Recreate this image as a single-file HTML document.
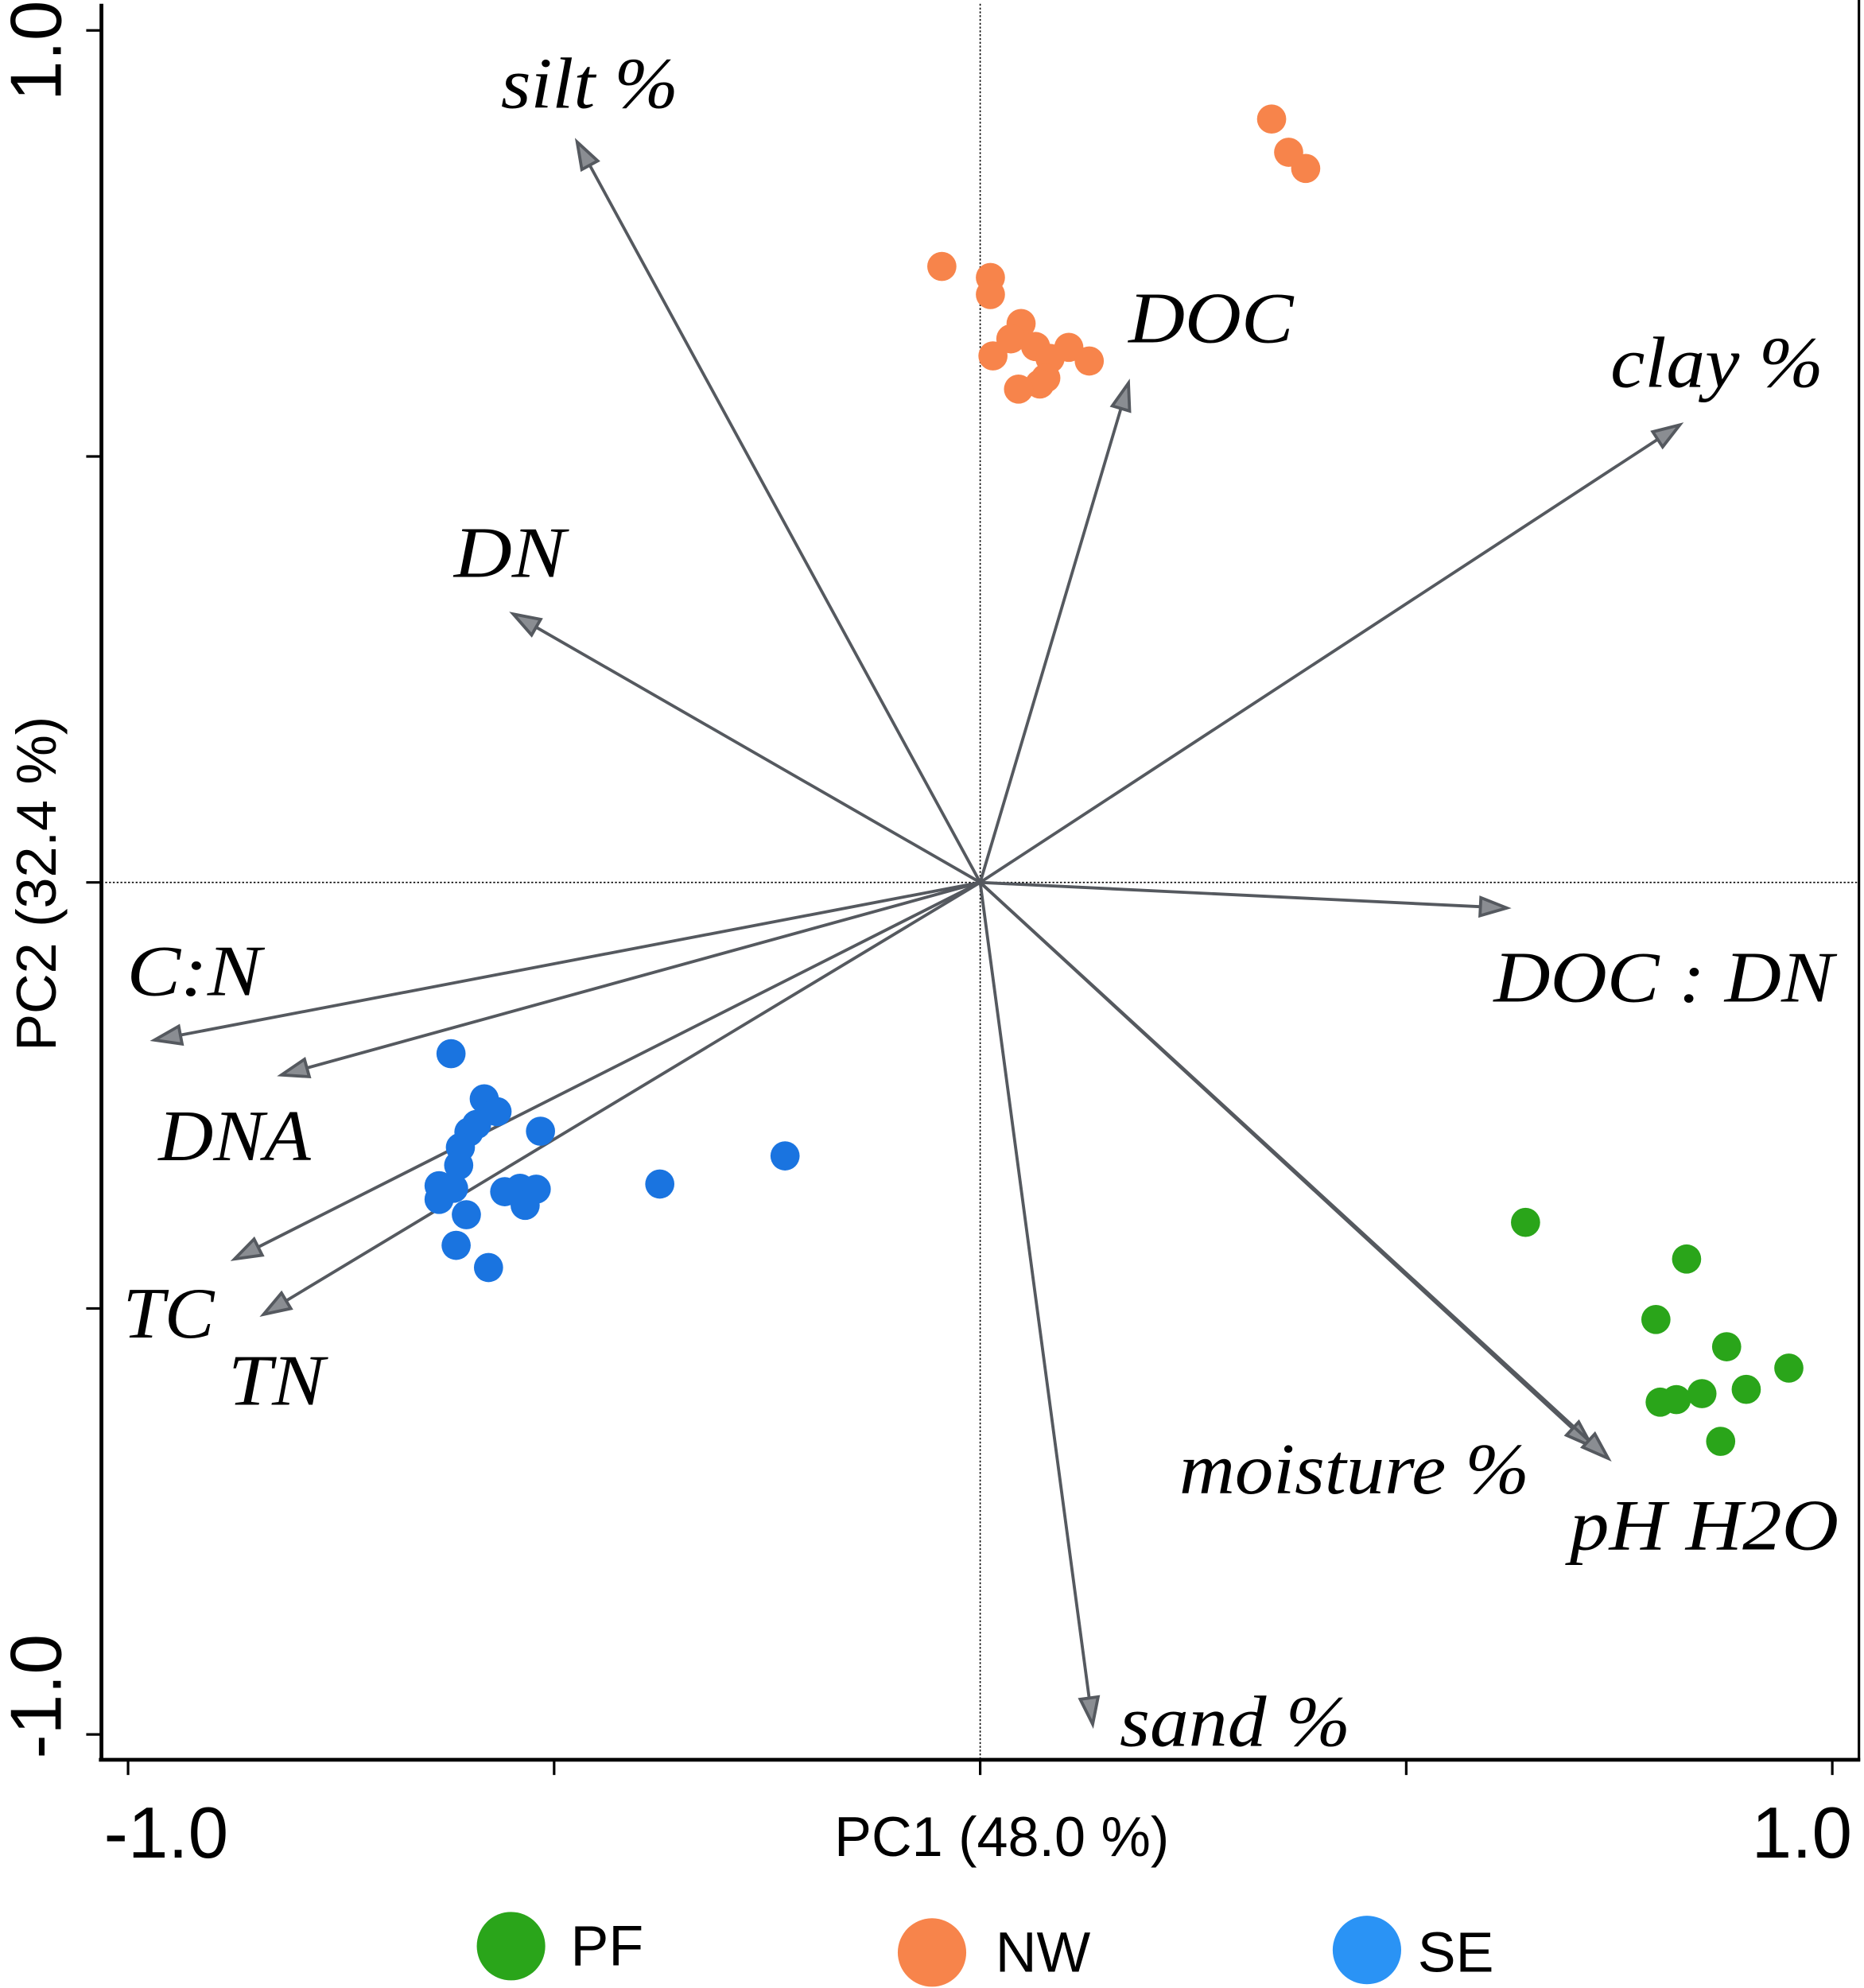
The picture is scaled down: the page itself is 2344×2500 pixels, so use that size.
<!DOCTYPE html>
<html><head><meta charset="utf-8"><style>
html,body{margin:0;padding:0;background:#fff;}
svg{display:block;}
</style></head><body>
<svg id="chart" width="2344" height="2500" viewBox="0 0 1470 1568" preserveAspectRatio="none" xmlns="http://www.w3.org/2000/svg">
<g id="axes"></g>
<g id="vectors"></g>
<g id="points"></g>
<g id="legend"></g>
</svg>
<script>
const xTicks = [-1, -0.5, 0, 0.5, 1];
const yTicks = [-1, -0.5, 0, 0.5, 1];
const xTickLabels = ["-1.0", "1.0"];
const yTickLabels = ["-1.0", "1.0"];
const vecNames = ["silt %", "DN", "DOC", "clay %", "DOC : DN", "C:N", "DNA", "TC", "TN", "moisture %", "pH H2O", "sand %"];
const vecX = [-0.473, -0.548, 0.174, 0.821, 0.618, -0.969, -0.820, -0.875, -0.841, 0.718, 0.737, 0.132];
const vecY = [0.869, 0.315, 0.586, 0.537, -0.030, -0.185, -0.226, -0.442, -0.507, -0.662, -0.676, -0.988];
const nwX = [0.342,0.362,0.382,-0.045,0.012,0.012,0.048,0.036,0.065,0.104,0.015,0.082,0.128,0.077,0.070,0.045];
const nwY = [0.896,0.857,0.838,0.723,0.710,0.690,0.656,0.638,0.629,0.628,0.618,0.615,0.612,0.592,0.585,0.579];
const seX = [-0.621,-0.582,-0.567,-0.591,-0.600,-0.516,-0.610,-0.612,-0.635,-0.618,-0.558,-0.540,-0.521,-0.635,-0.534,-0.603,-0.615,-0.577,-0.376,-0.229];
const seY = [-0.201,-0.254,-0.269,-0.284,-0.293,-0.292,-0.311,-0.332,-0.356,-0.359,-0.363,-0.359,-0.360,-0.372,-0.379,-0.390,-0.426,-0.452,-0.354,-0.321];
const pfX = [0.640,0.829,0.793,0.876,0.949,0.899,0.847,0.817,0.798,0.869];
const pfY = [-0.399,-0.442,-0.513,-0.545,-0.570,-0.595,-0.600,-0.607,-0.610,-0.656];

const NS = "http://www.w3.org/2000/svg";
const X0 = 773, Y0 = 696, S = 672;
function sx(v){ return X0 + v * S; }
function sy(v){ return Y0 - v * S; }
function mk(tag, attrs, parent, txt){
  const e = document.createElementNS(NS, tag);
  for (const k in attrs) e.setAttribute(k, attrs[k]);
  if (txt !== undefined) e.textContent = txt;
  parent.appendChild(e);
  return e;
}
const axes = document.getElementById('axes');
let e;
e = mk('line',{x1:80,y1:3,x2:80,y2:1389,stroke:'#000','stroke-width':3},axes);


e = mk('line',{x1:78,y1:1388,x2:1467,y2:1388,stroke:'#000','stroke-width':3},axes);


e = mk('line',{x1:1466,y1:0,x2:1466,y2:1389,stroke:'#000','stroke-width':2},axes);


e = mk('line',{x1:80,y1:Y0,x2:1466,y2:Y0,stroke:'#000','stroke-width':1,'stroke-dasharray':'1.5,1.5'},axes);


e = mk('line',{x1:X0,y1:3,x2:X0,y2:1388,stroke:'#000','stroke-width':1,'stroke-dasharray':'1.5,1.5'},axes);


xTicks.forEach(t=>{
  const l = mk('line',{x1:sx(t),y1:1388,x2:sx(t),y2:1400,stroke:'#000','stroke-width':2},axes);
  
  
});
yTicks.forEach(t=>{
  const l = mk('line',{x1:68,y1:sy(t),x2:80,y2:sy(t),stroke:'#000','stroke-width':2},axes);
  
  
});
const font = '"Liberation Sans", Arial, sans-serif';
e = mk('text',{x:sx(-1)+30,y:1465,'font-family':font,'font-size':57,'text-anchor':'middle'},axes,xTickLabels[0]);


e = mk('text',{x:sx(1)-24,y:1465,'font-family':font,'font-size':57,'text-anchor':'middle'},axes,xTickLabels[1]);


e = mk('text',{x:0,y:0,'font-family':font,'font-size':57,'text-anchor':'middle',transform:`translate(48,${sy(-1)-30}) rotate(-90)`},axes,yTickLabels[0]);


e = mk('text',{x:0,y:0,'font-family':font,'font-size':57,'text-anchor':'middle',transform:`translate(48,${sy(1)+16}) rotate(-90)`},axes,yTickLabels[1]);


e = mk('text',{x:790,y:1464,'font-family':font,'font-size':44,'text-anchor':'middle'},axes,'PC1 (48.0 %)');


e = mk('text',{x:0,y:0,'font-family':font,'font-size':44,'text-anchor':'middle',transform:'translate(44,697) rotate(-90)'},axes,'PC2 (32.4 %)');



const vg = document.getElementById('vectors');
const labelPos = [[395,85],[358,455],[890,270],[1270,305],[1178,790],[100,785],[125,915],[97,1055],[180,1108],[930,1178],[1238,1222],[883,1377]];
const labelW = [140,88,130,168,268,106,120,72,76,276,212,182];
vecNames.forEach((n,i)=>{
  const x2 = sx(vecX[i]), y2 = sy(vecY[i]);
  const ang = Math.atan2(y2-Y0, x2-X0);
  const L = 22, w = 0.33;
  const ln = mk('line',{x1:X0,y1:Y0,x2:x2,y2:y2,stroke:'#55595f','stroke-width':2.4},vg);
  
  
  const p1x = x2 - L*Math.cos(ang-w), p1y = y2 - L*Math.sin(ang-w);
  const p2x = x2 - L*Math.cos(ang+w), p2y = y2 - L*Math.sin(ang+w);
  const ah = mk('polygon',{points:`${p1x},${p1y} ${x2},${y2} ${p2x},${p2y}`,fill:'#8a8d92',stroke:'#55595f','stroke-width':2.4,'stroke-linejoin':'miter'},vg);
  
  
  const lp = labelPos[i];
  const t = mk('text',{x:lp[0],y:lp[1],'font-family':'"Liberation Serif", serif','font-style':'italic','font-size':57,textLength:labelW[i],lengthAdjust:'spacingAndGlyphs'},vg,n);
  
  
});

const pg = document.getElementById('points');
function drawPts(xs, ys, color, name){
  xs.forEach((v,i)=>{
    const c = mk('circle',{cx:sx(v),cy:sy(ys[i]),r:11.5,fill:color},pg);
    
    
  });
}
drawPts(nwX, nwY, '#f7844b', 'point-nw');
drawPts(seX, seY, '#1a74e0', 'point-se');
drawPts(pfX, pfY, '#2aa51a', 'point-pf');

const lg = document.getElementById('legend');
const leg = [['PF','#2aa51a',403,1535,450,1550],['NW','#f7844b',735,1540,785,1555],['SE','#2a93f5',1078,1538,1118,1555]];
leg.forEach(l=>{
  const c = mk('ellipse',{cx:l[2],cy:l[3],rx:27,ry:27,fill:l[1]},lg);
  
  
  const t = mk('text',{x:l[4],y:l[5],'font-family':font,'font-size':45},lg,l[0]);
  
  
});
</script>
</body></html>
